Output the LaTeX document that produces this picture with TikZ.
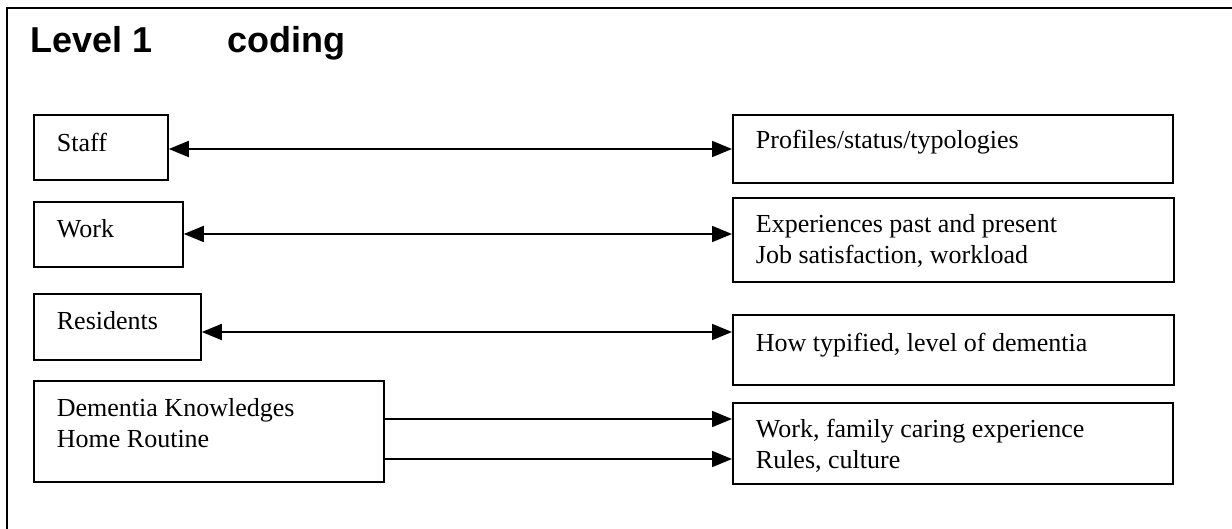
\documentclass[tikz,border=0pt]{standalone}
\usepackage{fontspec}
\setmainfont{Liberation Serif}
\newfontfamily\titlefont{Liberation Sans}
\usetikzlibrary{arrows.meta}
\begin{document}
\begin{tikzpicture}[x=1pt,y=1pt,
  box/.style={draw, line width=1.8pt, anchor=north west, inner xsep=23pt, inner ysep=0pt, align=flush left, font=\fontsize{26}{31}\selectfont},
  link/.style={line width=1.8pt, >={Triangle[length=20pt,width=16pt]}},
  frame/.style={line width=2.2pt, line join=miter},
  title/.style={anchor=base west, inner sep=0pt, font=\titlefont\bfseries\fontsize{36}{40}\selectfont}]
\useasboundingbox (0,0) rectangle (1232,-529);
\draw[frame] (1232,-8) -- (7,-8) -- (7,-529);
\node[title] (lvl) at (30,-53) {Level 1};
\node[title] (cod) at (227,-53) {coding};
% left boxes
\node[box, text width=88pt, text height=37pt, text depth=28pt] (staff) at (33,-114) {Staff};
\node[box, text width=103pt, text height=36pt, text depth=29pt] (work) at (33,-201) {Work};
\node[box, text width=121pt, text height=36pt, text depth=30pt] (res) at (33,-293) {Residents};
\node[box, text width=304pt, text height=36pt, text depth=65pt] (dem) at (33,-380) {Dementia Knowledges\\Home Routine};
% right boxes
\node[box, text width=394pt, text height=34pt, text depth=34pt] (prof) at (732,-114) {Profiles/status/typologies};
\node[box, text width=395pt, text height=35pt, text depth=49pt] (exp) at (732,-197) {Experiences past and present\\Job satisfaction, workload};
\node[box, text width=395pt, text height=37pt, text depth=33pt] (how) at (732,-314) {How typified, level of dementia};
\node[box, text width=394pt, text height=35pt, text depth=46pt] (wfam) at (732,-402) {Work, family caring experience\\Rules, culture};
% connectors
\draw[link, <->] (staff.east |- 0,-149) -- (prof.west |- 0,-149);
\draw[link, <->] (work.east |- 0,-234) -- (exp.west |- 0,-234);
\draw[link, <->] (res.east |- 0,-332) -- (how.west |- 0,-332);
\draw[link, ->] (dem.east |- 0,-419) -- (wfam.west |- 0,-419);
\draw[link, ->] (dem.east |- 0,-459) -- (wfam.west |- 0,-459);
\end{tikzpicture}
\end{document}
